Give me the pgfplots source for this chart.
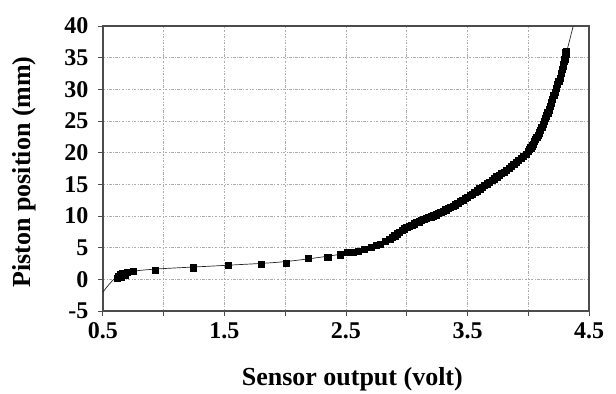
\documentclass[border=0pt]{standalone}
\usepackage{fontspec}
\setmainfont{Liberation Serif}
\usepackage{pgfplots}
\pgfplotsset{compat=1.18}
\begin{document}
\begin{tikzpicture}
\begin{axis}[
  name=ax,
  scale only axis,
  width=486pt, height=285pt,
  xmin=0.5, xmax=4.5, ymin=-5, ymax=40,
  xtick={0.5,1.5,2.5,3.5,4.5},
  minor xtick={1,2,3,4},
  ytick={-5,0,5,...,40},
  grid=both,
  major grid style={gray!65, line width=0.6pt, dash pattern=on 2.5pt off 1.5pt on 0.7pt off 1.5pt},
  minor grid style={gray!65, line width=0.6pt, dash pattern=on 2.5pt off 1.5pt on 0.7pt off 1.5pt},
  axis line style={gray!60!black, line width=1.3pt},
  tick align=outside,
  tick pos=left,
  major tick length=5pt, minor tick length=5pt,
  tick style={gray!60!black, line width=1pt},
  /pgf/number format/assume math mode=true,
  xticklabel style={/pgf/number format/fixed, /pgf/number format/precision=1, /pgf/number format/fixed zerofill, yshift=-3pt},
  yticklabel style={xshift=-6pt},
  tick label style={font=\bfseries\fontsize{24}{26}\selectfont},
  label style={font=\bfseries\fontsize{26}{28}\selectfont},
  xlabel={Sensor output (volt)},
  ylabel={Piston position (mm)},
  xlabel style={at={(axis description cs:0.513,0)}, anchor=base, yshift=-74pt},
  ylabel style={at={(axis description cs:0,0.488)}, anchor=center, yshift=79pt},
]
% trend line
\addplot[gray!30!black, line width=0.7pt, smooth, no marks] coordinates {
(0.5,-2.0) (0.55,-0.8) (0.6,0.2) (0.65,0.8) (0.7,1.1) (0.8,1.4) (1.0,1.7) (1.5,2.2) (2.0,2.8) (2.5,4.1) (2.75,5.3) (3.0,7.8) (3.25,10.2) (3.5,13.0) (3.75,16.3) (4.0,20.3) (4.1,23.3) (4.2,28.3) (4.3,34.8) (4.37,40)
};
% measured data
\addplot[only marks, mark=square*, mark size=3.1pt, black] coordinates {
(0.62,0.2) (0.63,0.5) (0.64,0.8) (0.65,0.4) (0.66,0.9) (0.67,1.0) (0.68,0.6) (0.70,1.1) (0.64,0.3) (0.66,0.6)
(0.75,1.3) (0.93,1.5) (1.24,1.85) (1.53,2.2) (1.80,2.4) (2.01,2.6) (2.19,3.3) (2.35,3.5) (2.45,3.9) (2.51,4.3)
(2.56,4.3) (2.6,4.5) (2.65,4.8) (2.71,5.1) (2.75,5.4) (2.78,5.6) (2.82,6.0) (2.86,6.3) (2.88,6.6)
(2.9,6.9) (2.92,7.2) (2.94,7.5) (2.96,7.8) (2.98,8.0) (3.0,8.2) (3.02,8.4) (3.04,8.6) (3.06,8.8) (3.08,9.0)
(3.1,9.1) (3.12,9.3) (3.14,9.45) (3.16,9.6) (3.18,9.75) (3.2,9.9) (3.22,10.05) (3.24,10.2) (3.26,10.4) (3.28,10.6)
(3.3,10.8) (3.32,11.0) (3.34,11.2) (3.36,11.4) (3.38,11.6) (3.4,11.8) (3.42,12.05) (3.44,12.3) (3.46,12.55) (3.48,12.8)
(3.5,13.0) (3.52,13.25) (3.54,13.5) (3.56,13.75) (3.58,14.0) (3.6,14.3) (3.62,14.6) (3.64,14.85) (3.66,15.1) (3.68,15.35)
(3.7,15.6) (3.72,15.9) (3.74,16.2) (3.76,16.45) (3.78,16.7) (3.8,16.95) (3.82,17.2) (3.84,17.55) (3.86,17.9) (3.88,18.2)
(3.9,18.5) (3.92,18.8) (3.94,19.1) (3.96,19.45) (3.98,19.8) (4.0,20.2) (4.01,20.5) (4.02,20.8) (4.03,21.1) (4.04,21.4)
(4.05,21.75) (4.06,22.1) (4.07,22.45) (4.08,22.8) (4.09,23.15) (4.1,23.5) (4.11,24.0) (4.12,24.5) (4.13,24.95) (4.14,25.4)
(4.15,25.85) (4.16,26.3) (4.17,26.8) (4.18,27.3) (4.19,27.9) (4.2,28.5) (4.21,29.05) (4.22,29.6) (4.23,30.2) (4.24,30.8)
(4.25,31.3) (4.26,31.8) (4.27,32.5) (4.28,33.2) (4.285,33.6) (4.29,34.0) (4.295,34.4) (4.3,34.8) (4.305,35.1) (4.31,35.5)
(4.31,36.0) (4.305,35.8)
};
\end{axis}
\path ([shift={(-103pt,-79pt)}]ax.south west) rectangle ([shift={(27pt,26pt)}]ax.north east);
\end{tikzpicture}
\end{document}
